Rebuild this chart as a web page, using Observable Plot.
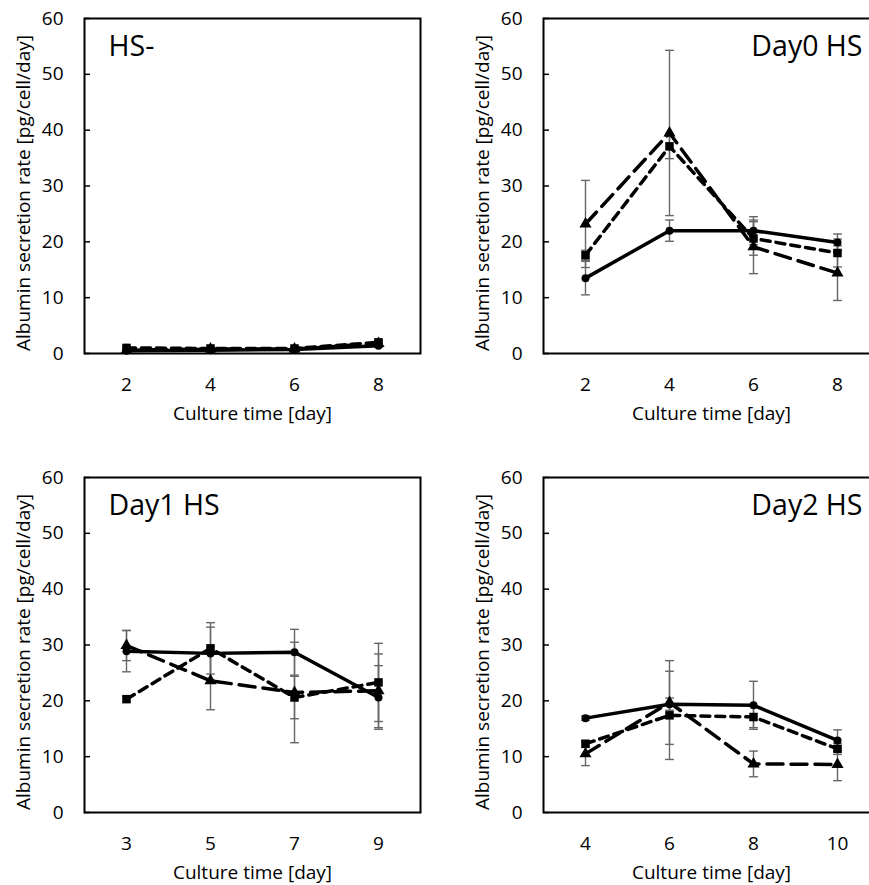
<!DOCTYPE html>
<html><head><meta charset="utf-8">
<script src="https://cdn.jsdelivr.net/npm/d3@7"></script>
<script src="https://cdn.jsdelivr.net/npm/@observablehq/plot@0.6"></script>
<style>
body{margin:0;background:#fff;overflow:hidden}
#wrap{position:relative;width:869px;height:885px;overflow:hidden;background:#fff}
</style></head><body><div id="wrap"></div>
<script>
// ---- data ----
const panelTitles = ["HS-", "Day0 HS", "Day1 HS", "Day2 HS"];
const yTicks = [0, 10, 20, 30, 40, 50, 60];
const xLabel = "Culture time [day]";
const yLabel = "Albumin secretion rate [pg/cell/day]";
const seriesNames = ["circle", "square", "triangle"];

const daysHS = [2, 4, 6, 8];
const daysDay0 = [2, 4, 6, 8];
const daysDay1 = [3, 5, 7, 9];
const daysDay2 = [4, 6, 8, 10];

// HS-
const hsCircle = [0.5, 0.6, 0.7, 1.4];
const hsCircleErr = [0.2, 0.2, 0.2, 0.3];
const hsSquare = [1.0, 0.9, 0.9, 2.0];
const hsSquareErr = [0.2, 0.2, 0.2, 0.3];
const hsTriangle = [0.6, 0.8, 0.8, 1.8];
const hsTriangleErr = [0.2, 0.2, 0.2, 0.3];

// Day0 HS
const d0Circle = [13.5, 22.0, 22.0, 19.9];
const d0CircleErr = [3.0, 1.9, 2.5, 1.5];
const d0Square = [17.6, 37.1, 20.6, 18.0];
const d0SquareErr = [0.9, 2.2, 3.0, 2.5];
const d0Triangle = [23.2, 39.5, 19.1, 14.4];
const d0TriangleErr = [7.8, 14.8, 4.8, 4.9];

// Day1 HS
const d1Circle = [28.9, 28.5, 28.7, 20.6];
const d1CircleErr = [3.7, 4.7, 4.1, 5.7];
const d1Square = [20.3, 29.4, 20.6, 23.3];
const d1SquareErr = [0.5, 4.6, 3.8, 7.0];
const d1Triangle = [29.9, 23.6, 21.5, 21.8];
const d1TriangleErr = [2.7, 5.2, 9.0, 6.6];

// Day2 HS
const d2Circle = [16.9, 19.4, 19.2, 12.9];
const d2CircleErr = [0.4, 1.1, 4.3, 1.9];
const d2Square = [12.3, 17.4, 17.1, 11.4];
const d2SquareErr = [0.6, 7.9, 1.9, 1.0];
const d2Triangle = [10.5, 19.7, 8.7, 8.6];
const d2TriangleErr = [2.1, 7.5, 2.3, 2.9];

// ---- build ----
const panels = [
  {title: panelTitles[0], days: daysHS, vals: [hsCircle, hsSquare, hsTriangle], errs: [hsCircleErr, hsSquareErr, hsTriangleErr], left: 0, top: 0, titleRight: false},
  {title: panelTitles[1], days: daysDay0, vals: [d0Circle, d0Square, d0Triangle], errs: [d0CircleErr, d0SquareErr, d0TriangleErr], left: 459, top: 0, titleRight: true},
  {title: panelTitles[2], days: daysDay1, vals: [d1Circle, d1Square, d1Triangle], errs: [d1CircleErr, d1SquareErr, d1TriangleErr], left: 0, top: 459, titleRight: false},
  {title: panelTitles[3], days: daysDay2, vals: [d2Circle, d2Square, d2Triangle], errs: [d2CircleErr, d2SquareErr, d2TriangleErr], left: 459, top: 459, titleRight: true}
];

const gray = "#666666";
const dashes = {circle: null, square: "9,6", triangle: "16,8"};
const sizes = {circle: 4, square: 4.8, triangle: 4.5};
const capSymbol = {draw(ctx, size) { const w = Math.sqrt(size / Math.PI); ctx.moveTo(-w, 0); ctx.lineTo(w, 0); }};
const font = "'Open Sans', sans-serif";

const wrap = document.getElementById("wrap");
for (const p of panels) {
  const rows = [];
  seriesNames.forEach((s, si) => p.days.forEach((d, i) => rows.push({series: s, day: d, v: p.vals[si][i], e: p.errs[si][i]})));
  const caps = rows.flatMap(r => [{day: r.day, y: r.v - r.e}, {day: r.day, y: r.v + r.e}]);
  const marks = [
    Plot.ruleX(rows, {x: "day", y1: d => d.v - d.e, y2: d => d.v + d.e, stroke: gray, strokeWidth: 1.4}),
    Plot.dot(caps, {x: "day", y: "y", symbol: capSymbol, r: 4.4, stroke: gray, strokeWidth: 1.4, fill: "none"}),
  ];
  for (const s of seriesNames) {
    const sr = rows.filter(r => r.series === s);
    marks.push(Plot.line(sr, {x: "day", y: "v", stroke: "black", strokeWidth: 3.5, strokeDasharray: dashes[s]}));
  }
  for (const s of seriesNames) {
    const sr = rows.filter(r => r.series === s);
    marks.push(Plot.dot(sr, {x: "day", y: "v", symbol: s, r: sizes[s], fill: "black", stroke: "none"}));
  }
  marks.push(
    Plot.frame({stroke: "black", strokeWidth: 2}),
    Plot.tickY(yTicks, {y: d => d, insetRight: 330, stroke: "black", strokeWidth: 1.5}),
    Plot.axisY({ticks: yTicks, tickSize: 0, tickPadding: 21, label: null, fontSize: 19}),
    Plot.axisX({ticks: p.days, tickSize: 0, tickPadding: 24, label: null, fontSize: 19}),
    Plot.text([yLabel], {frameAnchor: "left", text: d => d, rotate: -90, dx: -61, dy: 7, fontSize: 19, textAnchor: "middle", lineAnchor: "middle"}),
    Plot.text([xLabel], {frameAnchor: "bottom", text: d => d, dy: 60, fontSize: 19, textAnchor: "middle", lineAnchor: "middle"}),
    Plot.text([p.title], p.titleRight
      ? {frameAnchor: "top-right", text: d => d, dx: -17, dy: 17, fontSize: 28.5, textAnchor: "end", lineAnchor: "top"}
      : {frameAnchor: "top-left", text: d => d, dx: 24, dy: 17, fontSize: 28.5, textAnchor: "start", lineAnchor: "top"})
  );
  const svg = Plot.plot({
    width: 440, height: 433,
    marginLeft: 84, marginRight: 20, marginTop: 18, marginBottom: 80,
    x: {domain: [p.days[0] - 1, p.days[p.days.length - 1] + 1]},
    y: {domain: [0, 60]},
    style: {fontFamily: font, color: "black", background: "transparent", overflow: "visible"},
    marks
  });
  svg.style.position = "absolute";
  svg.style.left = p.left + "px";
  svg.style.top = p.top + "px";
  wrap.appendChild(svg);
}
</script></body></html>
